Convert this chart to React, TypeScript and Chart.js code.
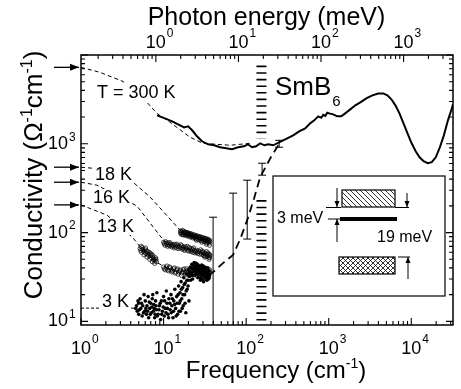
import React, { useEffect, useRef } from "react";
import { Chart, registerables } from "chart.js";

Chart.register(...registerables);

const FONT = '"Liberation Sans", Arial, Helvetica, sans-serif';
const CM_PER_MEV = 8.0655;

// axis ranges
const X_MIN = 1;
const X_MAX = 32000;
const Y_MIN = 9.1;
const Y_MAX = 10000;

// decade tick labels (exponents)
const freqExponents = [0, 1, 2, 3, 4];
const energyExponents = [0, 1, 2, 3];
const condExponents = [1, 2, 3];

// 300 K measured conductivity [cm^-1, Ω^-1 cm^-1]
const sigma300K: number[][] = [
  [8.33, 2090], [10.4, 1935], [12.7, 1790], [15.0, 1656], [17.7, 1531], [19.8, 1573],
  [22.2, 1419], [25.4, 1214], [29.2, 1067], [34.7, 987], [40.9, 962], [48.4, 914],
  [57.2, 890], [67.5, 867], [80, 914], [94, 937], [105, 987], [118, 914], [132, 937],
  [148, 1013], [166, 962], [185, 987], [212, 962], [237, 1013], [265, 1067], [314, 1153],
  [371, 1245], [438, 1382], [519, 1493], [596, 1700], [668, 1836], [746, 2037], [811, 1960],
  [860, 2120], [907, 2060], [960, 2240], [1015, 2200], [1134, 2147], [1268, 2037], [1417, 2037],
  [1584, 2203], [1823, 2441], [2100, 2711], [2415, 2928], [2850, 3245], [3380, 3510], [3981, 3690],
  [4580, 3690], [5130, 3510], [5740, 3170], [6420, 2711], [7190, 2203], [8050, 1700],
  [9000, 1313], [10100, 1013], [11300, 823], [12600, 705], [14100, 636], [15800, 604],
  [17700, 620], [19800, 705], [22200, 914], [24800, 1245], [27800, 1836], [31000, 2506],
  [32000, 2780],
];

// fits (thin dashed)
const fit300K: number[][] = [
  [1, 7260], [1.7, 6380], [3.23, 5030], [6.3, 2930], [8.3, 2200], [12, 1745],
  [21, 1183], [30, 1013], [64, 962], [112, 1013],
];
const fit18K: number[][] = [[1, 545], [1.36, 531], [4.27, 369], [6.87, 251], [16.7, 101]];
const fit16K: number[][] = [[1, 369], [1.56, 342], [4.77, 199], [6.87, 128], [10.4, 78]];
const fit13K: number[][] = [[1, 205], [2.07, 157], [4.27, 87], [5.2, 69], [8.3, 46], [11, 40], [14, 38]];
const fit3K: number[][] = [[1, 14.1], [4.8, 14.1]];

// model curve (thick long dashes)
const modelCurve: number[][] = [
  [35, 33], [38.7, 35], [52, 45], [69.5, 56], [85, 85], [103, 138], [125, 244],
  [148, 421], [200, 710], [258, 1040],
];

// open circles
const data18K: number[][] = [
  [16, 104], [16.3, 96], [16.7, 100], [17, 106], [17.3, 94], [17.7, 99], [18, 102], [18.4, 93],
  [18.8, 97], [19.2, 100], [19.6, 91], [20, 95], [20.5, 98], [21, 89], [21.5, 93], [22, 96],
  [22.6, 87], [23.2, 91], [23.8, 94], [24.4, 85], [25, 89], [25.6, 92], [26.3, 83], [27, 87],
  [27.7, 90], [28.4, 81], [29.2, 85], [30, 88], [30.8, 79], [31.6, 83], [32.4, 86], [33.2, 77],
  [34, 81], [34.8, 84], [35.6, 76], [36.3, 79], [36, 72], [33, 74], [29, 78], [25, 82],
  [16.1, 99], [16.5, 103], [16.9, 95], [17.5, 101], [17.9, 96], [18.2, 99], [18.6, 101], [19, 94],
  [19.4, 97], [19.8, 99], [20.3, 92], [20.8, 95], [21.3, 97], [21.8, 90], [22.3, 92], [22.9, 94],
  [23.5, 88], [24.1, 90], [24.7, 92], [25.3, 86], [26, 88], [26.7, 90], [27.4, 84], [28, 86],
  [28.8, 88], [29.6, 82], [30.4, 84], [31.2, 86], [32, 80], [32.8, 82], [33.6, 84], [34.4, 78],
  [35.2, 80], [36, 82],
];
const data16K: number[][] = [
  [10, 78], [10.4, 72], [10.8, 76], [11.2, 70], [11.6, 74], [12, 77], [12.5, 69], [13, 73],
  [13.5, 67], [14, 71], [14.5, 74], [15, 66], [15.6, 70], [16.2, 73], [16.8, 65], [17.4, 69],
  [18, 63], [18.7, 67], [19.4, 70], [20.1, 62], [20.8, 66], [21.6, 61], [22.4, 64], [23.2, 67],
  [24, 59], [25, 63], [26, 58], [27, 61], [28, 64], [29, 57], [30, 60], [31, 55], [32, 58],
  [33, 61], [34, 54], [35, 57], [36, 52], [36.5, 56], [35.5, 50], [31.5, 53],
  [10.2, 75], [10.6, 79], [11, 73], [11.4, 77], [11.8, 71], [12.2, 74], [12.7, 72], [13.2, 70],
  [13.7, 74], [14.2, 68], [14.8, 71], [15.3, 69], [15.9, 67], [16.5, 71], [17.1, 67], [17.7, 65],
  [18.3, 69], [19, 65], [19.7, 63], [20.4, 68], [21.2, 63], [22, 66], [22.8, 60], [23.6, 63],
  [24.5, 61], [25.5, 60], [26.5, 62], [27.5, 57], [28.5, 60], [29.5, 62], [30.5, 56], [31.5, 59],
  [32.5, 54], [33.5, 57], [34.5, 59], [35.5, 53], [36.2, 55],
];
const data13K: number[][] = [
  [5.2, 66], [5.4, 60], [5.5, 68], [5.7, 62], [5.8, 56], [6.0, 64], [6.1, 58], [6.3, 53],
  [6.4, 61], [6.6, 55], [6.8, 50], [6.9, 58], [7.1, 52], [7.3, 47], [7.4, 55], [7.6, 49],
  [7.8, 45], [8.0, 52], [8.2, 47],
  [5.3, 63], [5.6, 65], [5.9, 60], [6.2, 62], [6.5, 57], [6.7, 60], [7.0, 55], [7.2, 57],
  [7.5, 52], [7.7, 50], [7.9, 48], [8.1, 50], [5.35, 70], [6.05, 67],
  [10, 41], [10.5, 38], [11, 42], [11.5, 37], [12, 40], [12.6, 36], [13.2, 39], [13.8, 35],
  [14.4, 38], [15, 34], [15.7, 37], [16.4, 33], [17.1, 36], [17.8, 39], [18.6, 34], [19.4, 37],
  [20.2, 33], [21, 36], [22, 39], [23, 34], [24, 37], [25, 33], [26, 36], [27, 39], [28, 34],
  [29, 37], [30, 33], [31, 36], [32, 39], [33, 34], [34, 37], [35, 33], [36, 36],
  [10.2, 39], [10.8, 40], [11.2, 38], [11.8, 41], [12.3, 38], [12.9, 37], [13.5, 40], [14.1, 36],
  [14.7, 39], [15.3, 36], [16, 38], [16.7, 35], [17.4, 38], [18.2, 36], [19, 39], [19.8, 35],
  [20.6, 38], [21.5, 34], [22.5, 37], [23.5, 35], [24.5, 39], [25.5, 35], [26.5, 37], [27.5, 33],
  [28.5, 38], [29.5, 35], [30.5, 38], [31.5, 34], [32.5, 37], [33.5, 35], [34.5, 39], [35.5, 35],
  [36.2, 38],
];
// filled dots
const data3K: number[][] = [
  [4.6, 14], [4.8, 13], [5.0, 16], [5.0, 12], [5.2, 18], [5.3, 14], [5.5, 11.5], [5.6, 15],
  [5.8, 20], [5.9, 13], [6.0, 17], [6.2, 12], [6.3, 15], [6.5, 19], [6.6, 11], [6.8, 14],
  [7.0, 16], [7.1, 12.5], [7.3, 18], [7.5, 13], [7.6, 15.5], [7.8, 11], [8.0, 17], [8.2, 13.5],
  [8.3, 21], [8.6, 12], [8.9, 15], [9.2, 10.5], [9.4, 17], [9.7, 13], [10, 19], [10.2, 11.5],
  [10.5, 14], [10.8, 22], [11, 16], [11.3, 12], [11.6, 18], [12, 13.5], [12.3, 20], [12.6, 15],
  [13, 11], [13.3, 17], [13.7, 23], [14, 14], [14.4, 19], [14.8, 12], [15.2, 25], [15.5, 16],
  [15.8, 21], [16, 13], [16.3, 28], [16.6, 18], [17, 24], [17.3, 15], [17.6, 31], [18, 20],
  [18.3, 27], [18.6, 12.5], [19, 34], [19.3, 23], [19.6, 29], [20, 38], [20.3, 17], [20.6, 32],
  [21, 41], [21.5, 35], [22, 44], [22.5, 30], [23, 39], [23.5, 46], [24, 33], [24.5, 41],
  [25, 36], [25.5, 44], [26, 31], [26.5, 38], [27, 42], [27.5, 34], [28, 29], [28.5, 37],
  [29, 43], [29.5, 33], [30, 39], [30.5, 28], [31, 36], [31.5, 41], [32, 31], [32.5, 38],
  [33, 34], [33.5, 29], [34, 40], [34.5, 35], [35, 30], [35.5, 37], [36, 33],
  [4.7, 15], [4.9, 17], [5.1, 13.5], [5.4, 16], [5.7, 12.5], [6.1, 14], [6.4, 13], [6.7, 16.5],
  [6.9, 12], [7.2, 14.5], [7.4, 20], [7.7, 14], [7.9, 12], [8.1, 15], [8.4, 11.5], [8.8, 13.5],
  [9.1, 16], [9.5, 12], [9.9, 14.5], [10.3, 17], [10.7, 12.5], [11.1, 14], [11.5, 11], [11.9, 16],
  [12.4, 12.5], [12.8, 18], [13.2, 13], [13.6, 15.5], [14.2, 11.5], [14.6, 16], [15, 20], [15.4, 13],
  [15.9, 17], [16.4, 23], [16.8, 14], [17.2, 20], [17.8, 26], [18.2, 16], [18.8, 22], [19.2, 29],
  [19.8, 25], [20.2, 33], [20.8, 36], [21.2, 29], [21.8, 40], [22.2, 33], [22.8, 43], [23.2, 36],
  [23.8, 42], [24.2, 38], [24.8, 45], [25.2, 40], [25.8, 34], [26.2, 43], [26.8, 36], [27.2, 40],
  [27.8, 31], [28.2, 41], [28.8, 35], [29.2, 39], [29.8, 30], [30.2, 42], [30.8, 33], [31.2, 38],
  [31.8, 35], [32.2, 40], [32.8, 30], [33.2, 37], [33.8, 32], [34.2, 38], [34.8, 33], [35.2, 36],
  [35.8, 31],
];

// error bars
const errX = [39.8, 69.5, 103, 156, 251];
const errLow = [1, 1, 84.5, 443, 914];
const errHigh = [149, 278, 389, 604, 1094];

// 19 meV gap marker segments (conductivity ranges)
const gapMeV = 19;
const gapUpper = [7600, 1150];
const gapLower = [232, Y_MIN];

// DC values marked with arrows
const dcArrows = [7260, 545, 369, 205];

const tempLabels = [
  { text: "T = 300 K", x: 97, y: 98 },
  { text: "18 K", x: 95, y: 180 },
  { text: "16 K", x: 93, y: 203 },
  { text: "13 K", x: 97, y: 232 },
  { text: "3 K", x: 102, y: 307 },
];

const toXY = (arr: number[][]) => arr.map(([x, y]) => ({ x, y }));

type Seg = { t: string; s?: "sup" | "sub" };

function segFont(size: number, s?: string) {
  return `${s ? Math.round(size * 0.6) : size}px ${FONT}`;
}
function richWidth(ctx: CanvasRenderingContext2D, segs: Seg[], size: number) {
  let w = 0;
  for (const sg of segs) {
    ctx.font = segFont(size, sg.s);
    w += ctx.measureText(sg.t).width;
  }
  return w;
}
function drawRich(ctx: CanvasRenderingContext2D, segs: Seg[], x: number, y: number, size: number, align: "left" | "center") {
  let cx = align === "center" ? x - richWidth(ctx, segs, size) / 2 : x;
  ctx.textAlign = "left";
  ctx.textBaseline = "alphabetic";
  for (const sg of segs) {
    ctx.font = segFont(size, sg.s);
    const dy = sg.s === "sup" ? -size * 0.4 : sg.s === "sub" ? size * 0.3 : 0;
    ctx.fillText(sg.t, cx, y + dy);
    cx += ctx.measureText(sg.t).width;
  }
}

function logTicks(min: number, max: number) {
  const out: { v: number; major: boolean }[] = [];
  for (let d = Math.floor(Math.log10(min)); d <= Math.ceil(Math.log10(max)); d++) {
    for (let k = 1; k <= 9; k++) {
      const v = k * Math.pow(10, d);
      if (v >= min * 0.9999 && v <= max * 1.0001) out.push({ v, major: k === 1 });
    }
  }
  return out;
}

function arrow(ctx: CanvasRenderingContext2D, x1: number, y1: number, x2: number, y2: number, head = 7, half = 3) {
  ctx.beginPath();
  ctx.moveTo(x1, y1);
  ctx.lineTo(x2, y2);
  ctx.stroke();
  const ang = Math.atan2(y2 - y1, x2 - x1);
  ctx.beginPath();
  ctx.moveTo(x2, y2);
  ctx.lineTo(x2 - head * Math.cos(ang) + half * Math.sin(ang), y2 - head * Math.sin(ang) - half * Math.cos(ang));
  ctx.lineTo(x2 - head * Math.cos(ang) - half * Math.sin(ang), y2 - head * Math.sin(ang) + half * Math.cos(ang));
  ctx.closePath();
  ctx.fill();
}

function hatch(ctx: CanvasRenderingContext2D, x: number, y: number, w: number, h: number, cross: boolean) {
  ctx.save();
  ctx.beginPath();
  ctx.rect(x, y, w, h);
  ctx.clip();
  ctx.lineWidth = 0.8;
  ctx.beginPath();
  for (let i = -h; i < w + h; i += 5) {
    ctx.moveTo(x + i, y);
    ctx.lineTo(x + i + h, y + h);
    if (cross) {
      ctx.moveTo(x + i + h, y);
      ctx.lineTo(x + i, y + h);
    }
  }
  ctx.stroke();
  ctx.restore();
  ctx.lineWidth = 1.2;
  ctx.strokeRect(x, y, w, h);
}

const decorPlugin = {
  id: "decor",
  afterDatasetsDraw(chart: any) {
    const { ctx, chartArea: a, scales } = chart;
    const xs = scales.x, ys = scales.y, x2 = scales.x2;
    ctx.save();
    ctx.strokeStyle = "#000";
    ctx.fillStyle = "#000";

    // error bars
    ctx.save();
    ctx.beginPath();
    ctx.rect(a.left, a.top, a.right - a.left, a.bottom - a.top);
    ctx.clip();
    ctx.lineWidth = 1;
    errX.forEach((ex, i) => {
      const px = xs.getPixelForValue(ex);
      const pl = ys.getPixelForValue(errLow[i]);
      const ph = ys.getPixelForValue(errHigh[i]);
      ctx.beginPath();
      ctx.moveTo(px, pl);
      ctx.lineTo(px, ph);
      ctx.moveTo(px - 4, ph);
      ctx.lineTo(px + 4, ph);
      if (pl < a.bottom) {
        ctx.moveTo(px - 4, pl);
        ctx.lineTo(px + 4, pl);
      }
      ctx.stroke();
    });
    ctx.restore();

    // temperature labels with white background
    ctx.font = `18px ${FONT}`;
    ctx.textBaseline = "alphabetic";
    ctx.textAlign = "left";
    tempLabels.forEach((l) => {
      const w = ctx.measureText(l.text).width;
      ctx.fillStyle = "#fff";
      ctx.fillRect(l.x - 2, l.y - 14, w + 4, 17);
      ctx.fillStyle = "#000";
      ctx.fillText(l.text, l.x, l.y);
    });

    // SmB6
    drawRich(ctx, [{ t: "SmB" }], 275, 95, 26, "left");
    ctx.font = `26px ${FONT}`;
    const smw = ctx.measureText("SmB").width;
    ctx.font = `15px ${FONT}`;
    ctx.fillText("6", 275 + smw + 1, 106);

    // inset
    ctx.lineWidth = 1.2;
    ctx.fillStyle = "#fff";
    ctx.fillRect(273, 176, 172, 120);
    ctx.strokeRect(273, 176, 172, 120);
    ctx.fillStyle = "#000";
    hatch(ctx, 342, 190, 53, 17, false);
    ctx.fillRect(340, 217, 57, 4);
    hatch(ctx, 339, 257, 56, 17, true);
    ctx.lineWidth = 1;
    ctx.beginPath();
    ctx.moveTo(326, 207.5); ctx.lineTo(341, 207.5);
    ctx.moveTo(328, 219); ctx.lineTo(340, 219);
    ctx.moveTo(395, 207.5); ctx.lineTo(409, 207.5);
    ctx.moveTo(398, 257); ctx.lineTo(410, 257);
    ctx.stroke();
    arrow(ctx, 337, 188, 337, 207, 6, 2.5);
    arrow(ctx, 337, 242, 337, 219, 6, 2.5);
    arrow(ctx, 407, 193, 407, 207, 6, 2.5);
    arrow(ctx, 408, 279, 408, 257, 6, 2.5);
    ctx.font = `16px ${FONT}`;
    ctx.fillText("3 meV", 277, 223);
    ctx.fillText("19 meV", 377, 242);

    // frame
    ctx.lineWidth = 1.5;
    ctx.strokeRect(a.left, a.top, a.right - a.left, a.bottom - a.top);

    // inward ticks
    ctx.lineWidth = 1.1;
    ctx.beginPath();
    logTicks(X_MIN, X_MAX).forEach(({ v, major }) => {
      const px = xs.getPixelForValue(v);
      const L = major ? 7 : 4;
      ctx.moveTo(px, a.bottom);
      ctx.lineTo(px, a.bottom - L);
    });
    logTicks(X_MIN / CM_PER_MEV, X_MAX / CM_PER_MEV).forEach(({ v, major }) => {
      const px = x2.getPixelForValue(v);
      const L = major ? 7 : 4;
      ctx.moveTo(px, a.top);
      ctx.lineTo(px, a.top + L);
    });
    logTicks(Y_MIN, Y_MAX).forEach(({ v, major }) => {
      const py = ys.getPixelForValue(v);
      const L = major ? 7 : 4;
      ctx.moveTo(a.left, py);
      ctx.lineTo(a.left + L, py);
      ctx.moveTo(a.right, py);
      ctx.lineTo(a.right - L, py);
    });
    ctx.stroke();
    ctx.restore();
  },
  afterDraw(chart: any) {
    const { ctx, chartArea: a, scales } = chart;
    const xs = scales.x, ys = scales.y, x2 = scales.x2;
    ctx.save();
    ctx.fillStyle = "#000";
    ctx.strokeStyle = "#000";

    const power = (exp: number, cx: number, midY: number, mode: "center" | "right", raise: number) => {
      ctx.font = `18px ${FONT}`;
      const bw = ctx.measureText("10").width;
      const bx = mode === "center" ? cx - bw / 2 : cx - bw;
      ctx.textAlign = "left";
      ctx.textBaseline = "middle";
      ctx.fillText("10", bx, midY);
      ctx.font = `12px ${FONT}`;
      ctx.fillText(String(exp), bx + bw + 1, midY - raise);
    };

    freqExponents.forEach((e) => power(e, xs.getPixelForValue(Math.pow(10, e)), 349, "center", 9));
    energyExponents.forEach((e) => power(e, x2.getPixelForValue(Math.pow(10, e)), 43, "center", 9));
    condExponents.forEach((e) => power(e, 68, ys.getPixelForValue(Math.pow(10, e)), "right", 6.5));

    // titles
    ctx.fillStyle = "#000";
    drawRich(ctx, [{ t: "Photon energy (meV)" }], 266.5, 25, 25, "center");
    drawRich(ctx, [{ t: "Frequency (cm" }, { t: "-1", s: "sup" }, { t: ")" }], 276, 378, 24, "center");
    ctx.save();
    ctx.translate(42, 175);
    ctx.rotate(-Math.PI / 2);
    drawRich(ctx, [{ t: "Conductivity (Ω" }, { t: "-1", s: "sup" }, { t: "cm" }, { t: "-1", s: "sup" }, { t: ")" }], 0, 0, 26, "center");
    ctx.restore();

    // DC arrows
    ctx.lineWidth = 1.3;
    dcArrows.forEach((v) => {
      const py = ys.getPixelForValue(v);
      arrow(ctx, 54, py, a.left - 2, py, 9, 3.5);
    });
    ctx.restore();
  },
};

export default function App() {
  const ref = useRef<HTMLCanvasElement | null>(null);
  useEffect(() => {
    if (!ref.current) return;
    const thin = (data: number[][], dash: number[]) => ({
      type: "scatter" as const,
      data: toXY(data),
      showLine: true,
      borderColor: "#000",
      borderWidth: 1,
      borderDash: dash,
      pointRadius: 0,
      pointHoverRadius: 0,
    });
    const circles = (data: number[][]) => ({
      data: toXY(data),
      pointStyle: "circle",
      pointRadius: 2.1,
      borderWidth: 0.7,
      borderColor: "#000",
      backgroundColor: "rgba(255,255,255,0)",
    });
    const gapX = gapMeV * CM_PER_MEV;
    const gapSeg = (r: number[]) => ({
      type: "scatter" as const,
      data: [{ x: gapX, y: r[0] }, { x: gapX, y: r[1] }],
      showLine: true,
      borderColor: "#000",
      borderWidth: 10,
      borderDash: [1.6, 5],
      borderCapStyle: "butt",
      pointRadius: 0,
      pointHoverRadius: 0,
    });
    const chart = new Chart(ref.current, {
      type: "scatter",
      data: {
        datasets: [
          gapSeg(gapUpper),
          gapSeg(gapLower),
          thin(fit300K, [4, 3]),
          thin(fit18K, [4, 3]),
          thin(fit16K, [4, 3]),
          thin(fit13K, [4, 3]),
          thin(fit3K, [3, 2]),
          circles(data18K),
          circles(data16K),
          circles(data13K),
          {
            data: toXY(data3K),
            pointStyle: "circle",
            pointRadius: 1.8,
            borderWidth: 0,
            backgroundColor: "#000",
          },
          {
            data: toXY(modelCurve),
            showLine: true,
            borderColor: "#000",
            borderWidth: 1.8,
            borderDash: [8, 5],
            pointRadius: 0,
            pointHoverRadius: 0,
          },
          {
            data: toXY(sigma300K),
            showLine: true,
            borderColor: "#000",
            borderWidth: 2,
            pointRadius: 0,
            pointHoverRadius: 0,
          },
        ] as any,
      },
      options: {
        animation: false,
        responsive: true,
        maintainAspectRatio: false,
        events: [],
        layout: { padding: { left: 81, right: 8, top: 55, bottom: 64 } },
        plugins: { legend: { display: false }, tooltip: { enabled: false }, title: { display: false } },
        scales: {
          x: { type: "logarithmic", position: "bottom", min: X_MIN, max: X_MAX, display: false },
          x2: {
            type: "logarithmic",
            axis: "x",
            position: "top",
            min: X_MIN / CM_PER_MEV,
            max: X_MAX / CM_PER_MEV,
            display: false,
          },
          y: { type: "logarithmic", position: "left", min: Y_MIN, max: Y_MAX, display: false },
        } as any,
      },
      plugins: [decorPlugin],
    });
    return () => chart.destroy();
  }, []);
  return (
    <div style={{ position: "absolute", left: 0, top: 0, width: 461, height: 389, background: "#fff" }}>
      <canvas ref={ref} />
    </div>
  );
}
